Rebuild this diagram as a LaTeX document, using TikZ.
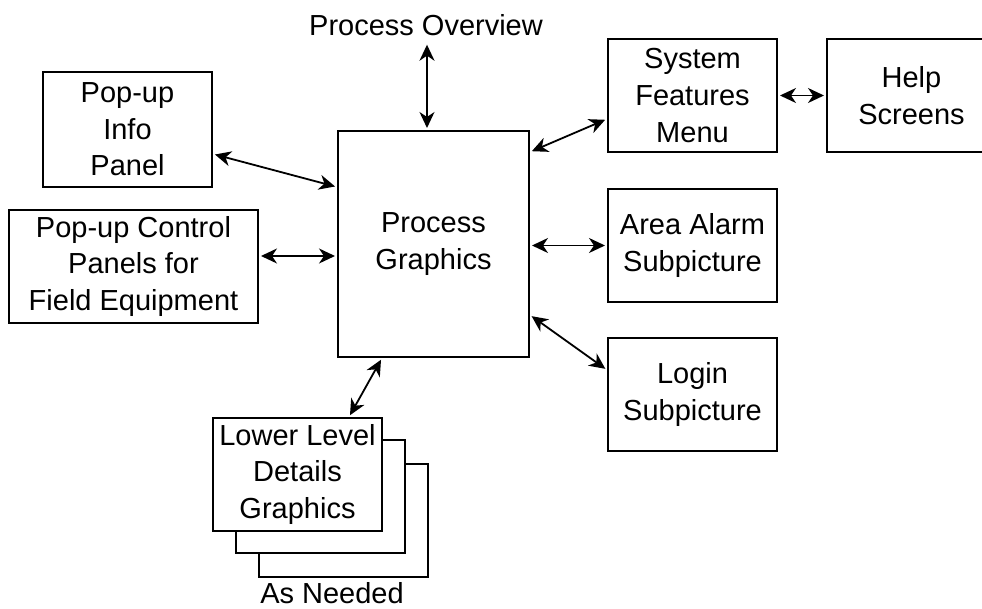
\documentclass[tikz,border=0pt]{standalone}
\usepackage{fontspec}
\setmainfont{Liberation Sans}
\usetikzlibrary{positioning,arrows.meta}

\begin{document}
\begin{tikzpicture}[
        x=0.5pt, y=-0.5pt,
        panel/.style = {rectangle, draw=black, line width=1pt, fill=white, align=center, inner sep=2pt,
                        minimum width=84.5pt, minimum height=56.5pt, font=\fontsize{14.5}{18.3}\selectfont},
        caption/.style = {font=\fontsize{14.5}{18.3}\selectfont},
        link/.style = {{Stealth[length=8pt,width=7.5pt,inset=2.5pt]}-{Stealth[length=8pt,width=7.5pt,inset=2.5pt]},
                       line width=0.9pt, shorten <=1pt, shorten >=1pt}
    ]
    \useasboundingbox (0,0) rectangle (982,609);

    \node[panel, minimum width=95.5pt, minimum height=113pt] (graphics) at (433.5,244) {Process\\Graphics};
    \node[caption] (overview) at (426,25) {Process Overview};

    \node[panel, minimum height=57.5pt] (info) at (127.5,129.5) {Pop-up\\Info\\Panel};
    \node[panel, minimum width=124.5pt] (control) at (133.5,266.5) {Pop-up Control\\Panels for\\Field Equipment};

    \node[panel] (features) at (692.5,95.5) {System\\Features\\Menu};
    \node[panel] (help) [right=24pt of features] {Help\\Screens};
    \node[panel] (alarm) at (692.5,245.5) {Area Alarm\\Subpicture};
    \node[panel] (login) at (692.5,394.5) {Login\\Subpicture};

    % stacked detail sheets
    \node[panel] (sheet3) at (343,520.5) {};
    \node[panel] (sheet2) at (320,496.5) {};
    \node[panel] (details) at (297.5,474.5) {Lower Level\\Details\\Graphics};
    \node[caption] (needed) at (332,593) {As Needed};

    \draw[link] (overview.south -| 427,0) -- (427,0 |- graphics.north);
    \draw[link] ([yshift=-12.25pt]info.east) -- ([yshift=28.5pt]graphics.west);
    \draw[link] ([yshift=5.25pt]control.east) -- ([yshift=5.25pt]control.east -| graphics.west);
    \draw[link] ([yshift=46pt]graphics.east) -- ([yshift=-11.75pt]features.west);
    \draw[link] (features.east) -- (help.west);
    \draw[link] (graphics.east |- alarm.west) -- (alarm.west);
    \draw[link] ([yshift=-35.5pt]graphics.east) -- ([yshift=12.25pt]login.west);
    \draw[link] ([xshift=-25.75pt]graphics.south) -- ([xshift=25.75pt]details.north);
\end{tikzpicture}
\end{document}
